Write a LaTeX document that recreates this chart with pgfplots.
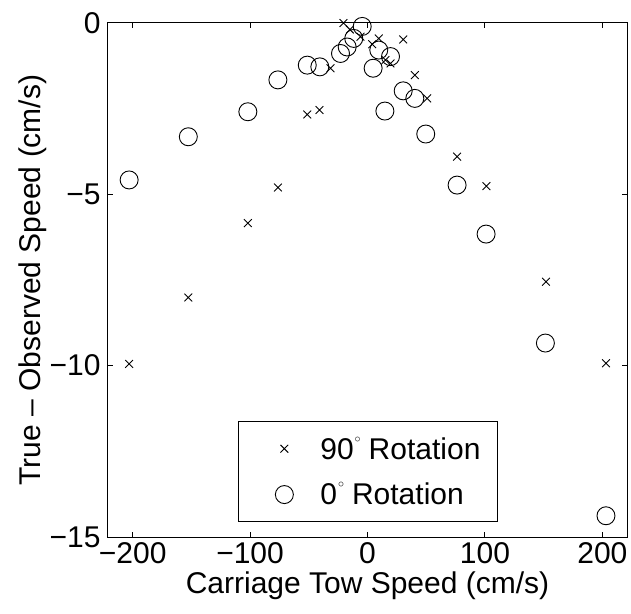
\documentclass[border=0pt]{standalone}
\usepackage{fontspec}
\setmainfont{Liberation Sans}
\usepackage{pgfplots}
\pgfplotsset{compat=1.18}

% speed error for the two sensor orientations
\pgfplotstableread{
x y
-203.0 -9.95
-152.6 -8.01
-101.9 -5.84
-76.3 -4.80
-51.3 -2.67
-40.9 -2.54
-31.5 -1.32
-20.5 0.00
-15.0 -0.19
-6.0 -0.40
4.0 -0.62
9.6 -0.45
15.3 -1.08
19.6 -1.18
30.4 -0.48
40.3 -1.52
50.8 -2.20
76.3 -3.90
101.3 -4.76
152.0 -7.55
203.1 -9.93
}\rotninety

\pgfplotstableread{
x y
-203.0 -4.58
-152.6 -3.32
-101.9 -2.59
-76.3 -1.66
-51.3 -1.23
-40.6 -1.28
-23.0 -0.89
-17.3 -0.70
-11.7 -0.45
-4.5 -0.10
4.8 -1.32
9.6 -0.79
14.8 -2.57
19.6 -0.98
30.4 -1.98
40.3 -2.20
49.6 -3.24
76.3 -4.73
101.0 -6.16
151.5 -9.34
203.1 -14.38
}\rotzero

% raised degree ring
\newcommand{\degring}{\hspace{1pt}\raisebox{17pt}{\fontsize{13}{13}\selectfont$\circ$}\hspace{8pt}}

\begin{document}
\begin{tikzpicture}
\begin{axis}[
  scale only axis,
  width=519pt, height=514pt,
  xmin=-221, xmax=221, ymin=-15, ymax=0,
  xtick={-200,-100,0,100,200},
  xticklabels={−200,−100,0,100,200},
  ytick={-15,-10,-5,0},
  yticklabels={−15,−10,−5,0},
  tick align=inside, tick pos=both,
  major tick length=5pt,
  axis line style={line width=1pt},
  every tick/.style={black, line width=1pt},
  font=\fontsize{30}{34}\selectfont,
  xticklabel style={yshift=-2pt},
  yticklabel style={xshift=-4pt},
  xlabel={Carriage Tow Speed (cm/s)},
  ylabel={True -- Observed Speed (cm/s)},
  xlabel style={yshift=-1pt},
  ylabel style={yshift=-4pt},
  legend cell align=left,
  legend image code/.code={%
    \path[draw=none] (0pt,0pt) -- (62pt,0pt);
    \draw[#1] plot coordinates {(31pt,0pt)};},
  legend style={
    at={(0.7514,0.0292)}, anchor=south east,
    draw=black, line width=1pt,
    font=\fontsize{30}{34}\selectfont,
    inner xsep=15pt, inner ysep=13pt,
    row sep=18pt, column sep=3pt,
  },
]
\addplot[only marks, mark=x, mark size=5.5pt, line width=0.9pt, black]
  table[x=x, y=y] {\rotninety};
\addlegendentry{90\degring Rotation}
\addplot[only marks, mark=o, mark size=9pt, line width=0.9pt, black]
  table[x=x, y=y] {\rotzero};
\addlegendentry{0\degring Rotation}
\end{axis}
\pgfresetboundingbox
\useasboundingbox ([shift={(-108pt,-76pt)}]current axis.south west)
  rectangle ([shift={(4pt,23pt)}]current axis.north east);
\end{tikzpicture}
\end{document}
